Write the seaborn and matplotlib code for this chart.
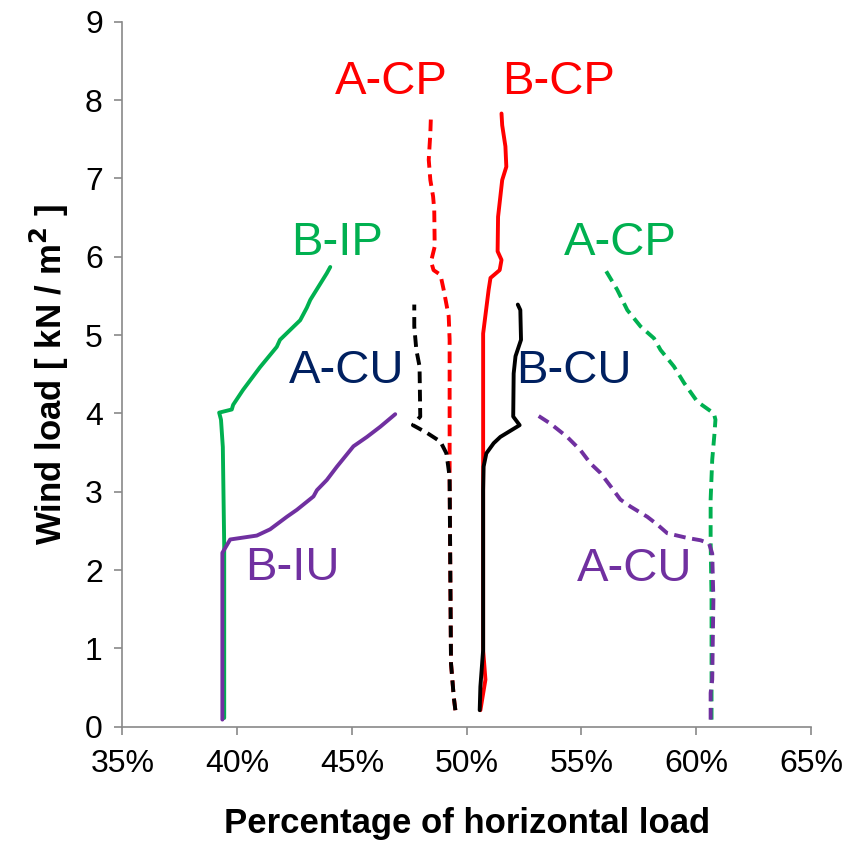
import numpy as np
import pandas as pd
import seaborn as sns
import matplotlib
matplotlib.use("Agg")
import matplotlib.pyplot as plt
from matplotlib.ticker import PercentFormatter

# percentage of horizontal load (x) against wind load (y)
b_ip_x = [39.44, 39.44, 39.38, 39.30, 39.22, 39.77, 39.83, 40.26, 41.00, 41.73, 41.87, 42.75, 43.04, 43.19, 43.91, 44.06]
b_ip_y = [0.11, 2.32, 3.57, 3.92, 4.01, 4.05, 4.11, 4.30, 4.59, 4.85, 4.94, 5.19, 5.35, 5.45, 5.79, 5.87]

b_iu_x = [39.36, 39.36, 39.70, 40.86, 41.44, 42.17, 42.61, 43.33, 43.48, 43.91, 44.35, 45.07, 45.66, 46.24, 46.89]
b_iu_y = [0.09, 2.22, 2.39, 2.44, 2.52, 2.68, 2.77, 2.94, 3.02, 3.15, 3.32, 3.58, 3.70, 3.83, 3.99]

a_cp_red_x = [49.51, 49.44, 49.32, 49.26, 49.26, 49.22, 49.00, 48.86, 48.56, 48.45, 48.61, 48.59, 48.54, 48.42, 48.35, 48.42, 48.45]
a_cp_red_y = [0.21, 0.38, 0.81, 3.15, 4.94, 5.24, 5.58, 5.77, 5.83, 5.94, 6.13, 6.60, 6.77, 6.98, 7.24, 7.58, 7.83]

a_cu_black_x = [49.51, 49.44, 49.32, 49.26, 49.26, 49.12, 48.86, 48.28, 47.66, 47.98, 47.95, 47.81, 47.72, 47.72]
a_cu_black_y = [0.21, 0.38, 0.81, 3.15, 3.19, 3.49, 3.64, 3.75, 3.85, 3.96, 4.60, 4.81, 5.11, 5.39]

b_cp_x = [50.60, 50.82, 50.72, 50.72, 50.96, 51.04, 51.44, 51.52, 51.35, 51.37, 51.47, 51.55, 51.73, 51.69, 51.55, 51.52]
b_cp_y = [0.21, 0.60, 0.98, 5.02, 5.58, 5.73, 5.83, 5.96, 6.07, 6.51, 6.77, 6.98, 7.15, 7.41, 7.68, 7.83]

b_cu_x = [50.57, 50.60, 50.72, 50.72, 50.74, 50.86, 51.18, 51.47, 52.31, 52.03, 52.05, 52.13, 52.37, 52.34, 52.23]
b_cu_y = [0.21, 0.51, 0.98, 3.02, 3.32, 3.49, 3.62, 3.70, 3.85, 3.96, 4.51, 4.73, 4.94, 5.32, 5.39]

a_cp_green_x = [60.67, 60.67, 60.63, 60.63, 60.70, 60.80, 60.84, 60.77, 60.05, 59.47, 59.03, 58.45, 58.16, 57.58, 57.00, 56.56, 56.05]
a_cp_green_y = [0.09, 1.62, 2.38, 2.90, 3.41, 3.75, 3.92, 4.00, 4.15, 4.39, 4.60, 4.81, 4.96, 5.11, 5.32, 5.58, 5.83]

a_cu_purple_x = [60.63, 60.63, 60.70, 60.75, 60.70, 60.56, 60.19, 59.61, 58.74, 58.31, 57.87, 57.14, 56.70, 56.27, 55.83, 55.40, 54.96, 54.38, 53.65, 53.07]
a_cu_purple_y = [0.09, 0.43, 0.60, 1.62, 2.21, 2.34, 2.38, 2.41, 2.47, 2.58, 2.68, 2.81, 2.90, 3.07, 3.24, 3.36, 3.53, 3.70, 3.87, 3.98]

labels = ["A-CP", "B-CP", "B-IP", "A-CP", "A-CU", "B-CU", "B-IU", "A-CU"]
label_x = [46.70, 54.01, 44.36, 56.71, 44.79, 54.66, 42.39, 57.32]
label_y = [8.23, 8.23, 6.18, 6.18, 4.54, 4.54, 2.03, 2.01]
label_colors = ["#FF0000", "#FF0000", "#00B050", "#00B050", "#002060", "#002060", "#7030A0", "#7030A0"]

RED, GREEN, PURPLE, BLACK = "#FF0000", "#00B050", "#7030A0", "#000000"
DASH = (0, (3.0, 1.7))

sns.set_theme(style="white")
plt.rcParams["font.family"] = ["Liberation Sans", "DejaVu Sans"]

fig = plt.figure(figsize=(8.48, 8.58), dpi=100)
ax = fig.add_axes([0.1442, 0.1531, 0.8121, 0.8214])

# order matters: later series sit on top where they overlap
series = [
    (b_ip_x, b_ip_y, GREEN, "-"),
    (b_iu_x, b_iu_y, PURPLE, "-"),
    (a_cp_red_x, a_cp_red_y, RED, DASH),
    (a_cu_black_x, a_cu_black_y, BLACK, DASH),
    (b_cp_x, b_cp_y, RED, "-"),
    (b_cu_x, b_cu_y, BLACK, "-"),
    (a_cp_green_x, a_cp_green_y, GREEN, DASH),
    (a_cu_purple_x, a_cu_purple_y, PURPLE, DASH),
]
for xs, ys, col, ls in series:
    df = pd.DataFrame({"x": xs, "y": ys})
    sns.lineplot(data=df, x="x", y="y", sort=False, estimator=None, color=col,
                 linestyle=ls, linewidth=2.8, ax=ax)

for txt, tx, ty, col in zip(labels, label_x, label_y, label_colors):
    ax.text(tx, ty, txt, color=col, fontsize=34, ha="center", va="center")

ax.set_xlim(35, 65)
ax.set_ylim(0, 9)
ax.set_xticks(np.arange(35, 66, 5))
ax.set_yticks(np.arange(0, 10, 1))
ax.xaxis.set_major_formatter(PercentFormatter(xmax=100, decimals=0))

for side in ["top", "right"]:
    ax.spines[side].set_visible(False)
for side in ["left", "bottom"]:
    ax.spines[side].set_color("#898989")
    ax.spines[side].set_linewidth(1.2)
ax.tick_params(axis="both", which="major", direction="out", length=6, width=1.2,
               color="#898989", labelsize=23, labelcolor="black", bottom=True, left=True)
ax.tick_params(axis="x", pad=10)
ax.tick_params(axis="y", pad=8)

ax.set_xlabel("Percentage of horizontal load", fontsize=25, fontweight="bold",
              labelpad=20, color="black")
ax.set_ylabel("Wind load [ kN / m$^\\mathbf{2}$ ]", fontsize=25, fontweight="bold",
              labelpad=10, color="black")

fig.savefig("out.png", dpi=100)
